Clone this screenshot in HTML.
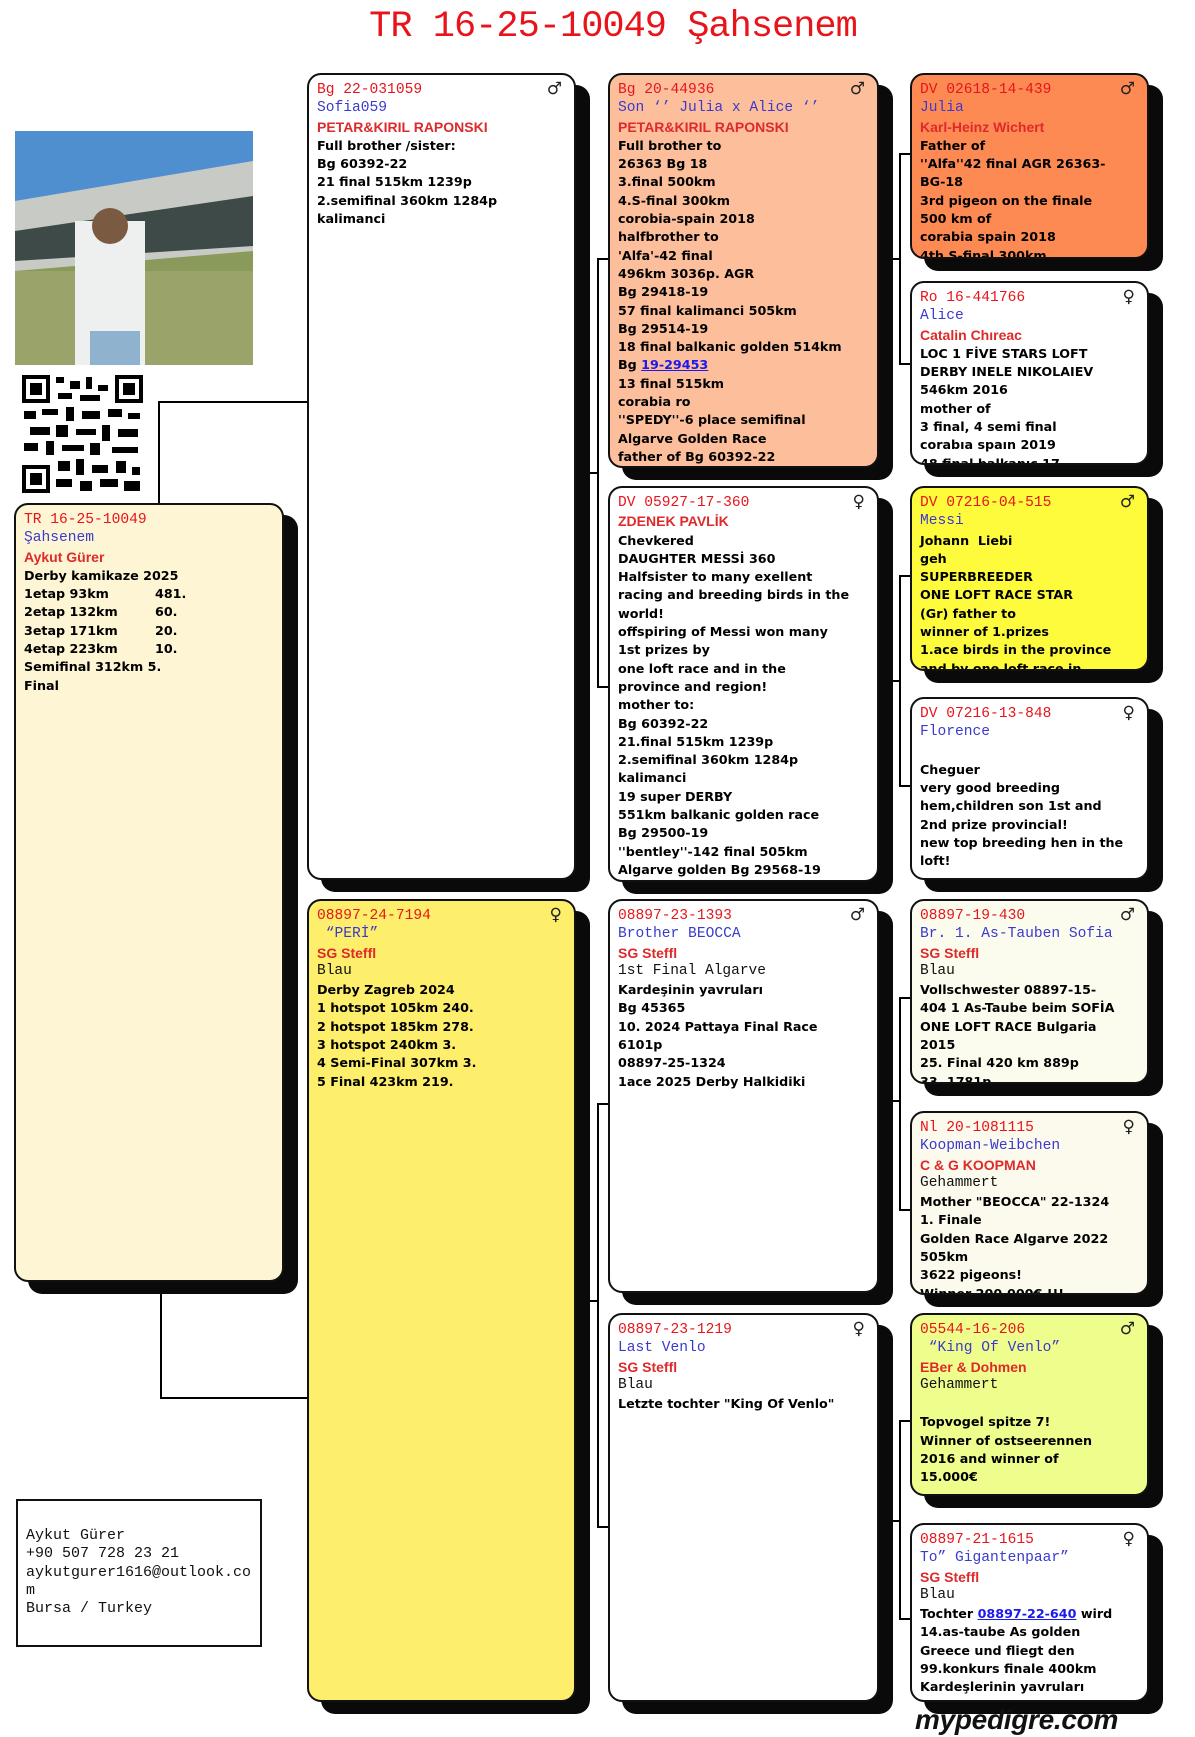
<!DOCTYPE html>
<html><head><meta charset="utf-8">
<style>
body{margin:0;width:1195px;height:1737px;position:relative;background:#fff;overflow:hidden;font-family:"DejaVu Sans",sans-serif}
.t{position:absolute;left:0;width:1226px;top:6px;text-align:center;font:37px "Liberation Mono",monospace;color:#e8141b;letter-spacing:-1px}
.b{position:absolute;border:2px solid #111;border-radius:14px;box-shadow:14px 12px 0 #0a0a0a;overflow:hidden;padding:7px 0 0 8px;box-sizing:border-box;background:#fff}
.l{white-space:nowrap;line-height:18.3px;font-weight:bold;font-size:12.7px;color:#000;height:18.3px}
.n{font:14.6px "Liberation Mono",monospace;color:#e8141b;font-weight:normal}
.nm{font:14.6px "Liberation Mono",monospace;color:#3a3acc;font-weight:normal}
.br{font:bold 14px "Liberation Sans",sans-serif;color:#dd2a2a}
.s{font:14.5px "Liberation Mono",monospace;color:#111;font-weight:normal}
.g{position:absolute;right:12px;top:4px;font:17px "DejaVu Sans",sans-serif;color:#222;font-weight:normal}
.h{position:absolute;background:#000;height:2px}
.v{position:absolute;background:#000;width:2px}
a{color:#1a1aee;text-decoration:underline}
.c{display:inline-block;width:131px}
</style></head><body>
<div class="t">TR 16-25-10049 Şahsenem</div>

<svg style="position:absolute;left:15px;top:131px" width="238" height="234">
<rect width="238" height="80" fill="#4f8fd0"/><rect y="80" width="238" height="154" fill="#8a9a5a"/>
<polygon points="0,70 238,30 238,120 0,140" fill="#c8cbc5"/><polygon points="0,100 238,65 238,115 0,130" fill="#3d4a48"/>
<rect y="140" width="238" height="94" fill="#9aa36a"/>
<rect x="60" y="90" width="70" height="144" fill="#eef0f0"/><circle cx="95" cy="95" r="18" fill="#7a5a40"/>
<rect x="75" y="200" width="50" height="34" fill="#8fb2cf"/>
</svg>
<svg style="position:absolute;left:22px;top:375px" width="121" height="118">
<rect width="121" height="118" fill="#fff"/>
<g fill="#000">
<rect x="0" y="0" width="28" height="28"/><rect x="93" y="0" width="28" height="28"/><rect x="0" y="90" width="28" height="28"/>
</g>
<g fill="#fff"><rect x="4" y="4" width="20" height="20"/><rect x="97" y="4" width="20" height="20"/><rect x="4" y="94" width="20" height="20"/></g>
<g fill="#000"><rect x="8" y="8" width="12" height="12"/><rect x="101" y="8" width="12" height="12"/><rect x="8" y="98" width="12" height="12"/>
<rect x="34" y="2" width="8" height="6"/><rect x="48" y="6" width="10" height="8"/><rect x="64" y="2" width="6" height="12"/><rect x="76" y="10" width="10" height="6"/>
<rect x="36" y="18" width="14" height="6"/><rect x="58" y="20" width="20" height="6"/><rect x="2" y="36" width="12" height="8"/><rect x="20" y="34" width="16" height="6"/>
<rect x="44" y="32" width="8" height="14"/><rect x="60" y="36" width="18" height="8"/><rect x="86" y="34" width="14" height="8"/><rect x="106" y="38" width="12" height="6"/>
<rect x="8" y="52" width="20" height="8"/><rect x="34" y="50" width="12" height="12"/><rect x="54" y="54" width="20" height="6"/><rect x="80" y="50" width="8" height="16"/><rect x="96" y="54" width="20" height="8"/>
<rect x="2" y="68" width="14" height="8"/><rect x="24" y="66" width="8" height="14"/><rect x="40" y="70" width="22" height="6"/><rect x="68" y="68" width="10" height="12"/><rect x="90" y="72" width="26" height="6"/>
<rect x="36" y="86" width="12" height="10"/><rect x="54" y="84" width="8" height="16"/><rect x="70" y="90" width="16" height="8"/><rect x="94" y="86" width="10" height="12"/><rect x="110" y="92" width="8" height="8"/>
<rect x="34" y="104" width="16" height="8"/><rect x="58" y="106" width="12" height="10"/><rect x="78" y="104" width="18" height="8"/><rect x="102" y="106" width="16" height="10"/>
</g></svg>

<div class="v" style="left:158px;top:401px;height:103px"></div>
<div class="h" style="left:158px;top:401px;width:150px"></div>
<div class="v" style="left:160px;top:1282px;height:117px"></div>
<div class="h" style="left:160px;top:1397px;width:148px"></div>

<div class="v" style="left:597px;top:258px;height:430px"></div>
<div class="h" style="left:585px;top:472px;width:14px"></div>
<div class="h" style="left:597px;top:258px;width:12px"></div>
<div class="h" style="left:597px;top:686px;width:12px"></div>
<div class="v" style="left:597px;top:1103px;height:425px"></div>
<div class="h" style="left:585px;top:1300px;width:14px"></div>
<div class="h" style="left:597px;top:1103px;width:12px"></div>
<div class="h" style="left:597px;top:1526px;width:12px"></div>

<div class="v" style="left:899px;top:153px;height:212px"></div>
<div class="h" style="left:888px;top:258px;width:12px"></div>
<div class="h" style="left:899px;top:153px;width:12px"></div>
<div class="h" style="left:899px;top:363px;width:12px"></div>
<div class="v" style="left:899px;top:575px;height:212px"></div>
<div class="h" style="left:888px;top:680px;width:12px"></div>
<div class="h" style="left:899px;top:575px;width:12px"></div>
<div class="h" style="left:899px;top:785px;width:12px"></div>
<div class="v" style="left:899px;top:997px;height:214px"></div>
<div class="h" style="left:888px;top:1100px;width:12px"></div>
<div class="h" style="left:899px;top:997px;width:12px"></div>
<div class="h" style="left:899px;top:1209px;width:12px"></div>
<div class="v" style="left:899px;top:1420px;height:200px"></div>
<div class="h" style="left:888px;top:1520px;width:12px"></div>
<div class="h" style="left:899px;top:1420px;width:12px"></div>
<div class="h" style="left:899px;top:1618px;width:12px"></div>

<div class="b" style="left:14px;top:503px;width:270px;height:779px;background:#fdf5d3">
<div class="l n">TR 16-25-10049</div>
<div class="l nm">Şahsenem</div>
<div class="l br">Aykut Gürer</div>
<div class="l">Derby kamikaze 2025</div>
<div class="l"><span class="c">1etap 93km</span>481.</div>
<div class="l"><span class="c">2etap 132km</span>60.</div>
<div class="l"><span class="c">3etap 171km</span>20.</div>
<div class="l"><span class="c">4etap 223km</span>10.</div>
<div class="l">Semifinal 312km 5.</div>
<div class="l">Final</div>
</div>

<div class="b" style="left:307px;top:73px;width:269px;height:807px">
<span class="g">♂</span>
<div class="l n">Bg 22-031059</div>
<div class="l nm">Sofia059</div>
<div class="l br">PETAR&amp;KIRIL RAPONSKI</div>
<div class="l">Full brother /sister:</div>
<div class="l">Bg 60392-22</div>
<div class="l">21 final 515km 1239p</div>
<div class="l">2.semifinal 360km 1284p</div>
<div class="l">kalimanci</div>
</div>
<div class="b" style="left:307px;top:899px;width:269px;height:803px;background:#fdee6b">
<span class="g">♀</span>
<div class="l n">08897-24-7194</div>
<div class="l nm">&nbsp;“PERİ”</div>
<div class="l br">SG Steffl</div>
<div class="l s">Blau</div>
<div class="l">Derby Zagreb 2024</div>
<div class="l">1 hotspot 105km 240.</div>
<div class="l">2 hotspot 185km 278.</div>
<div class="l">3 hotspot 240km 3.</div>
<div class="l">4 Semi-Final 307km 3.</div>
<div class="l">5 Final 423km 219.</div>
</div>

<div class="b" style="left:608px;top:73px;width:271px;height:395px;background:#fdbf9b">
<span class="g">♂</span>
<div class="l n">Bg 20-44936</div>
<div class="l nm">Son ‘’ Julia x Alice ‘’</div>
<div class="l br">PETAR&amp;KIRIL RAPONSKI</div>
<div class="l">Full brother to</div>
<div class="l">26363 Bg 18</div>
<div class="l">3.final 500km</div>
<div class="l">4.S-final 300km</div>
<div class="l">corobia-spain 2018</div>
<div class="l">halfbrother to</div>
<div class="l">'Alfa'-42 final</div>
<div class="l">496km 3036p. AGR</div>
<div class="l">Bg 29418-19</div>
<div class="l">57 final kalimanci 505km</div>
<div class="l">Bg 29514-19</div>
<div class="l">18 final balkanic golden 514km</div>
<div class="l">Bg <a>19-29453</a></div>
<div class="l">13 final 515km</div>
<div class="l">corabia ro</div>
<div class="l">''SPEDY''-6 place semifinal</div>
<div class="l">Algarve Golden Race</div>
<div class="l">father of Bg 60392-22</div>
</div>
<div class="b" style="left:608px;top:486px;width:271px;height:396px">
<span class="g">♀</span>
<div class="l n">DV 05927-17-360</div>
<div class="l br">ZDENEK PAVLİK</div>
<div class="l">Chevkered</div>
<div class="l">DAUGHTER MESSİ 360</div>
<div class="l">Halfsister to many exellent</div>
<div class="l">racing and breeding birds in the</div>
<div class="l">world!</div>
<div class="l">offspiring of Messi won many</div>
<div class="l">1st prizes by</div>
<div class="l">one loft race and in the</div>
<div class="l">province and region!</div>
<div class="l">mother to:</div>
<div class="l">Bg 60392-22</div>
<div class="l">21.final 515km 1239p</div>
<div class="l">2.semifinal 360km 1284p</div>
<div class="l">kalimanci</div>
<div class="l">19 super DERBY</div>
<div class="l">551km balkanic golden race</div>
<div class="l">Bg 29500-19</div>
<div class="l">''bentley''-142 final 505km</div>
<div class="l">Algarve golden Bg 29568-19</div>
</div>
<div class="b" style="left:608px;top:899px;width:271px;height:394px">
<span class="g">♂</span>
<div class="l n">08897-23-1393</div>
<div class="l nm">Brother BEOCCA</div>
<div class="l br">SG Steffl</div>
<div class="l s">1st Final Algarve</div>
<div class="l">Kardeşinin yavruları</div>
<div class="l">Bg 45365</div>
<div class="l">10. 2024 Pattaya Final Race</div>
<div class="l">6101p</div>
<div class="l">08897-25-1324</div>
<div class="l">1ace 2025 Derby Halkidiki</div>
</div>
<div class="b" style="left:608px;top:1313px;width:271px;height:389px">
<span class="g">♀</span>
<div class="l n">08897-23-1219</div>
<div class="l nm">Last Venlo</div>
<div class="l br">SG Steffl</div>
<div class="l s">Blau</div>
<div class="l">Letzte tochter "King Of Venlo"</div>
</div>

<div class="b" style="left:910px;top:73px;width:239px;height:186px;background:#fe8a53">
<span class="g">♂</span>
<div class="l n">DV 02618-14-439</div>
<div class="l nm">Julia</div>
<div class="l br">Karl-Heinz Wichert</div>
<div class="l">Father of</div>
<div class="l">''Alfa''42 final AGR 26363-</div>
<div class="l">BG-18</div>
<div class="l">3rd pigeon on the finale</div>
<div class="l">500 km of</div>
<div class="l">corabia spain 2018</div>
<div class="l">4th S-final 300km</div>
</div>
<div class="b" style="left:910px;top:281px;width:239px;height:184px">
<span class="g">♀</span>
<div class="l n">Ro 16-441766</div>
<div class="l nm">Alice</div>
<div class="l br">Catalin Chıreac</div>
<div class="l">LOC 1 FİVE STARS LOFT</div>
<div class="l">DERBY INELE NIKOLAIEV</div>
<div class="l">546km 2016</div>
<div class="l">mother of</div>
<div class="l">3 final, 4 semi final</div>
<div class="l">corabıa spaın 2019</div>
<div class="l">48 final balkanıc 17</div>
</div>
<div class="b" style="left:910px;top:486px;width:239px;height:185px;background:#fdfb3c">
<span class="g">♂</span>
<div class="l n">DV 07216-04-515</div>
<div class="l nm">Messi</div>
<div class="l">Johann &nbsp;Liebi</div>
<div class="l">geh</div>
<div class="l">SUPERBREEDER</div>
<div class="l">ONE LOFT RACE STAR</div>
<div class="l">(Gr) father to</div>
<div class="l">winner of 1.prizes</div>
<div class="l">1.ace birds in the province</div>
<div class="l">and by one loft race in</div>
</div>
<div class="b" style="left:910px;top:697px;width:239px;height:183px">
<span class="g">♀</span>
<div class="l n">DV 07216-13-848</div>
<div class="l nm">Florence</div>
<div class="l"></div>
<div class="l">Cheguer</div>
<div class="l">very good breeding</div>
<div class="l">hem,children son 1st and</div>
<div class="l">2nd prize provincial!</div>
<div class="l">new top breeding hen in the</div>
<div class="l">loft!</div>
</div>
<div class="b" style="left:910px;top:899px;width:239px;height:185px;background:#fcfcee">
<span class="g">♂</span>
<div class="l n">08897-19-430</div>
<div class="l nm">Br. 1. As-Tauben Sofia</div>
<div class="l br">SG Steffl</div>
<div class="l s">Blau</div>
<div class="l">Vollschwester 08897-15-</div>
<div class="l">404 1 As-Taube beim SOFİA</div>
<div class="l">ONE LOFT RACE Bulgaria</div>
<div class="l">2015</div>
<div class="l">25. Final 420 km 889p</div>
<div class="l">33. 1781p</div>
</div>
<div class="b" style="left:910px;top:1111px;width:239px;height:184px;background:#fcf9ed">
<span class="g">♀</span>
<div class="l n">Nl 20-1081115</div>
<div class="l nm">Koopman-Weibchen</div>
<div class="l br">C &amp; G KOOPMAN</div>
<div class="l s">Gehammert</div>
<div class="l">Mother "BEOCCA" 22-1324</div>
<div class="l">1. Finale</div>
<div class="l">Golden Race Algarve 2022</div>
<div class="l">505km</div>
<div class="l">3622 pigeons!</div>
<div class="l">Winner 200.000€ !!!</div>
</div>
<div class="b" style="left:910px;top:1313px;width:239px;height:183px;background:#eefd8c">
<span class="g">♂</span>
<div class="l n">05544-16-206</div>
<div class="l nm">&nbsp;“King Of Venlo”</div>
<div class="l br">EBer &amp; Dohmen</div>
<div class="l s">Gehammert</div>
<div class="l"></div>
<div class="l">Topvogel spitze 7!</div>
<div class="l">Winner of ostseerennen</div>
<div class="l">2016 and winner of</div>
<div class="l">15.000€</div>
</div>
<div class="b" style="left:910px;top:1523px;width:239px;height:179px">
<span class="g">♀</span>
<div class="l n">08897-21-1615</div>
<div class="l nm">To” Gigantenpaar”</div>
<div class="l br">SG Steffl</div>
<div class="l s">Blau</div>
<div class="l">Tochter <a>08897-22-640</a> wird</div>
<div class="l">14.as-taube As golden</div>
<div class="l">Greece und fliegt den</div>
<div class="l">99.konkurs finale 400km</div>
<div class="l">Kardeşlerinin yavruları</div>
<div class="l">Halkidiki 2025</div>
</div>

<div style="position:absolute;left:16px;top:1499px;width:246px;height:148px;border:2px solid #111;box-sizing:border-box;padding:26px 0 0 8px;font:15px 'Liberation Mono',monospace;line-height:18.3px;color:#111">
Aykut Gürer<br>+90 507 728 23 21<br>aykutgurer1616@outlook.co<br>m<br>Bursa / Turkey
</div>

<div style="position:absolute;left:915px;top:1704px;font:italic bold 28px 'Liberation Sans',sans-serif;color:#111;letter-spacing:-0.3px">mypedigre.com</div>
</body></html>
